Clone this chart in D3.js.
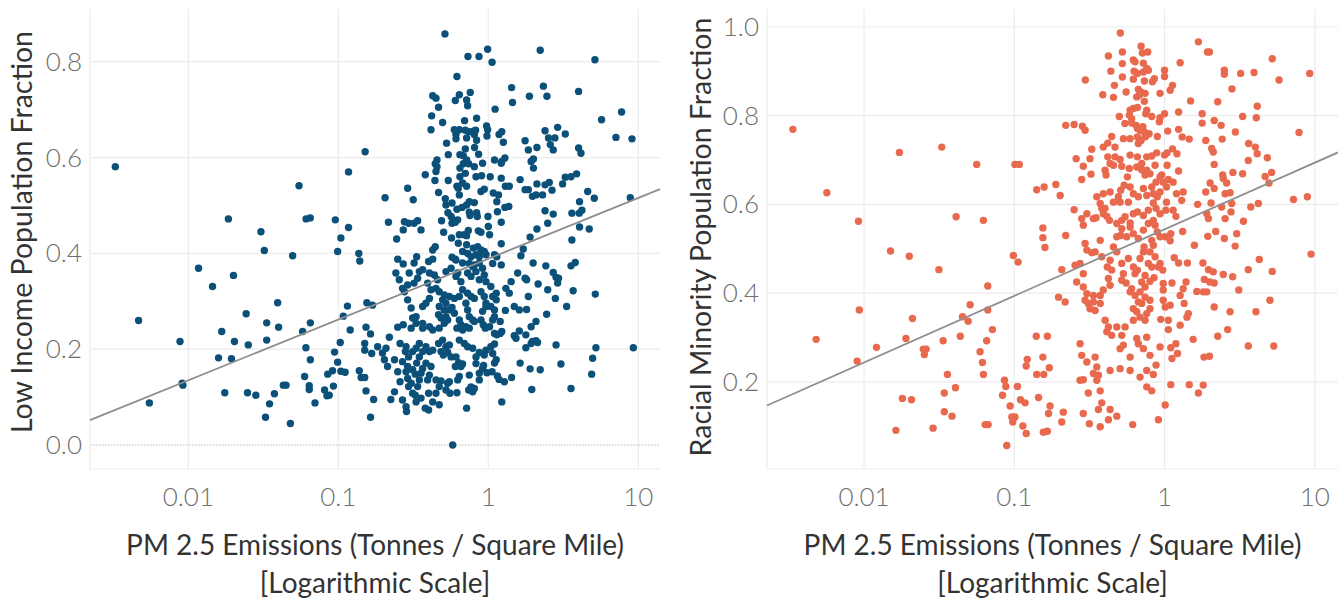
<!DOCTYPE html>
<html>
<head>
<meta charset="utf-8">
<script src="https://cdn.jsdelivr.net/npm/d3@7"></script>
<style>
  body { margin: 0; background: #fff; }
  svg { display: block; font-family: Lato, "Open Sans", sans-serif; }
  .tick-label { fill: #6e6e6e; font-size: 26px; font-weight: 300; }
  .axis-title { fill: #333; font-size: 28px; }
  .y-title { fill: #333; font-size: 28.5px; }
</style>
</head>
<body>
<div id="chart"></div>
<script>
// Tick values shared by both panels
const xTickValues = [0.01, 0.1, 1, 10];
const lowIncomeYTicks = [0, 0.2, 0.4, 0.6, 0.8];
const minorityYTicks = [0.2, 0.4, 0.6, 0.8, 1.0];

// [PM 2.5 emissions, low income fraction]
const lowIncomePoints = [
  [0.00326,0.581],[0.0185,0.472],[0.0305,0.445],[0.0547,0.541],[0.061,0.472],[0.065,0.474],[0.0955,0.47],[0.117,0.57],[0.151,0.612],[0.117,0.454],[0.104,0.432],
  [0.0321,0.406],[0.0496,0.395],[0.099,0.404],[0.137,0.4],[0.139,0.384],[0.0117,0.369],[0.0145,0.331],[0.020,0.354],[0.00466,0.26],[0.0088,0.216],[0.0091,0.129],[0.0092,0.125],[0.0055,0.088],
  [0.0167,0.237],[0.0203,0.216],[0.0159,0.182],[0.0194,0.18],[0.0243,0.274],[0.0251,0.209],[0.0333,0.255],[0.040,0.246],[0.0394,0.297],[0.0333,0.219],[0.0175,0.109],[0.0248,0.109],
  [0.0282,0.104],[0.0348,0.086],[0.0375,0.107],[0.043,0.125],[0.0448,0.125],[0.0327,0.058],[0.0479,0.045],[0.0578,0.237],[0.0651,0.255],[0.0608,0.203],[0.0651,0.178],[0.0596,0.143],
  [0.064,0.124],[0.064,0.116],[0.0699,0.088],[0.081,0.115],[0.084,0.103],[0.087,0.104],[0.0928,0.123],[0.085,0.148],[0.0915,0.155],[0.0944,0.194],[0.099,0.173],[0.103,0.214],[0.104,0.154],
  [0.111,0.152],[0.108,0.269],[0.115,0.29],[0.12,0.24],[0.138,0.155],[0.142,0.141],[0.15,0.141],[0.153,0.113],[0.172,0.095],[0.164,0.058],[0.15,0.212],[0.15,0.198],[0.167,0.191],
  [0.153,0.246],[0.164,0.232],[0.183,0.205],[0.155,0.297],[0.169,0.292],
  [0.514,0.858],[0.732,0.811],[0.867,0.811],[0.99,0.826],[1.06,0.799],[2.22,0.824],[5.14,0.804],[0.618,0.769],[1.43,0.746],[2.33,0.749],[2.46,0.728],[1.88,0.728],[4.0,0.738],
  [1.45,0.715],[1.11,0.701],[7.74,0.695],[5.69,0.679],[7.1,0.642],[9.08,0.639],[8.85,0.516],
  [0.426,0.729],[0.448,0.724],[0.466,0.705],[0.603,0.719],[0.641,0.731],[0.717,0.72],[0.758,0.736],[0.728,0.708],[0.419,0.687],[0.496,0.673],[0.415,0.658],[0.695,0.677],[0.836,0.682],
  [0.594,0.658],[0.641,0.658],[0.703,0.657],[0.747,0.654],[0.798,0.655],[0.823,0.657],[0.609,0.648],[0.717,0.641],[0.807,0.648],[0.609,0.639],[0.974,0.666],[0.99,0.658],[0.98,0.645],
  [1.18,0.648],[1.23,0.654],[1.26,0.632],[0.527,0.63],[0.836,0.636],[0.81,0.621],[0.703,0.618],[0.541,0.606],[0.647,0.606],[0.681,0.604],[0.862,0.607],[0.455,0.595],[0.443,0.587],
  [0.455,0.581],[0.448,0.571],[0.717,0.595],[0.681,0.587],[0.74,0.587],[0.647,0.578],[0.807,0.581],[0.703,0.567],[0.647,0.56],[0.916,0.588],[1.1,0.595],[1.23,0.592],[1.29,0.599],
  [1.22,0.588],[1.76,0.635],[1.85,0.616],[2.11,0.621],[2.0,0.597],[1.93,0.592],[2.0,0.578],[2.39,0.656],[2.52,0.641],[2.78,0.641],[2.9,0.663],[2.59,0.627],[2.71,0.616],[3.26,0.649],
  [4.0,0.62],[4.15,0.609],[0.38,0.564],[0.441,0.552],[0.541,0.552],[0.618,0.54],[0.674,0.547],[0.717,0.54],[0.828,0.56],[0.902,0.562],[1.03,0.56],[1.22,0.557],[1.3,0.54],[1.38,0.54],
  [1.63,0.554],[1.76,0.533],[1.85,0.533],[2.11,0.545],[2.39,0.543],[2.55,0.548],[1.97,0.519],[2.08,0.522],[2.3,0.522],[2.66,0.532],[3.13,0.545],[3.26,0.559],[3.56,0.56],[3.88,0.566],
  [4.6,0.529],[5.09,0.515],[0.466,0.527],[0.631,0.536],[0.641,0.522],[0.517,0.514],[0.522,0.501],[0.573,0.505],[0.618,0.492],[0.668,0.496],[0.717,0.501],[0.747,0.508],[0.807,0.506],
  [0.894,0.529],[0.94,0.534],[1.08,0.526],[1.17,0.522],[1.14,0.508],[1.29,0.496],[1.37,0.498],[1.15,0.487],[1.22,0.465],[2.39,0.489],[2.71,0.482],[2.49,0.463],[3.61,0.484],[4.04,0.484],
  [4.21,0.49],[4.06,0.508],[4.06,0.455],[4.71,0.451],[2.11,0.451],[1.9,0.434],[3.61,0.428],[0.538,0.485],[0.565,0.477],[0.584,0.47],[0.603,0.465],[0.573,0.463],[0.625,0.47],[0.488,0.468],
  [0.747,0.486],[0.755,0.479],[0.836,0.485],[0.845,0.477],[0.995,0.477],[1.0,0.456],[0.504,0.444],[0.569,0.432],[0.641,0.439],[0.692,0.439],[0.736,0.448],[0.717,0.437],[0.858,0.447],
  [0.894,0.444],[1.02,0.439],[0.205,0.516],[0.29,0.536],[0.316,0.512],[0.216,0.465],[0.276,0.466],[0.294,0.463],[0.32,0.463],[0.338,0.468],[0.271,0.449],[0.356,0.449],[0.245,0.43],
  [0.631,0.421],[0.717,0.418],[1.22,0.42],[1.71,0.409],[1.65,0.395],[0.426,0.407],[0.443,0.414],[0.333,0.393],[0.249,0.388],[0.271,0.378],[0.4,0.383],[0.426,0.388],[0.573,0.392],[0.603,0.388],
  [0.674,0.404],[0.728,0.4],[0.794,0.411],[0.849,0.414],[0.894,0.407],[0.94,0.404],[0.828,0.397],[0.767,0.393],[0.871,0.393],[0.965,0.397],[1.1,0.397],[1.14,0.393],[1.07,0.379],[1.22,0.376],
  [0.747,0.379],[0.807,0.376],[1.57,0.359],[1.76,0.348],[1.8,0.345],[1.99,0.38],[2.42,0.374],[2.71,0.36],[2.83,0.35],[2.94,0.348],[2.9,0.338],[3.56,0.374],[3.8,0.381],[2.15,0.336],
  [2.49,0.324],[3.68,0.322],[5.17,0.315],[1.85,0.31],[2.8,0.306],[3.33,0.289],[2.45,0.273],[2.08,0.258],[1.93,0.247],[1.78,0.23],[1.97,0.216],[2.08,0.218],[2.13,0.214],[1.61,0.238],
  [1.49,0.228],[1.53,0.223],[1.8,0.283],[2.83,0.209],[1.78,0.203],[1.93,0.212],[5.22,0.203],[9.27,0.203],[4.96,0.181],[4.89,0.148],[3.05,0.169],[2.22,0.157],[1.9,0.159],[1.63,0.171],
  [3.56,0.118],[1.95,0.116],[1.23,0.09],[1.43,0.141],[1.28,0.132],[0.579,0.0],
  [0.219,0.225],[0.208,0.202],[0.197,0.192],[0.203,0.178],[0.213,0.164],[0.237,0.178],[0.249,0.153],[0.258,0.132],[0.237,0.111],[0.224,0.095],[0.268,0.094],[0.283,0.08],[0.285,0.07],
  [0.294,0.122],[0.313,0.108],[0.326,0.104],[0.338,0.122],[0.29,0.139],[0.306,0.129],[0.347,0.136],[0.356,0.15],[0.326,0.148],[0.38,0.077],[0.4,0.073],[0.426,0.09],[0.471,0.084],
  [0.448,0.108],[0.4,0.108],[0.448,0.136],[0.484,0.134],[0.536,0.129],[0.55,0.132],[0.625,0.136],[0.641,0.143],[0.618,0.109],[0.717,0.077],[0.74,0.115],[0.787,0.111],[0.807,0.118],
  [0.767,0.121],[0.747,0.146],[0.871,0.136],[0.871,0.15],[0.916,0.16],[0.98,0.151],[1.1,0.171],[1.06,0.153],[1.15,0.144],[1.18,0.137],[0.828,0.17],[0.93,0.166],
  [0.565,0.184],[0.609,0.184],[0.634,0.172],[0.674,0.169],[0.603,0.164],[0.657,0.164],[0.484,0.195],[0.501,0.188],[0.536,0.193],[0.522,0.205],[0.466,0.212],[0.496,0.219],[0.55,0.209],
  [0.641,0.219],[0.692,0.212],[0.728,0.205],[0.787,0.202],[0.871,0.193],[0.965,0.198],[1.04,0.205],[1.1,0.211],[1.14,0.23],[1.2,0.233],[1.23,0.237],[0.384,0.205],[0.405,0.195],
  [0.426,0.198],[0.365,0.195],[0.347,0.184],[0.333,0.171],[0.384,0.171],[0.365,0.16],[0.415,0.164],[0.405,0.146],[0.394,0.136],[0.28,0.195],[0.294,0.184],[0.268,0.174],[0.29,0.164],
  [0.283,0.153],[0.313,0.157],[0.258,0.212],[0.283,0.205],[0.313,0.195],[0.33,0.202],[0.347,0.212],
  [0.271,0.251],[0.306,0.244],[0.249,0.246],[0.313,0.265],[0.33,0.254],[0.365,0.254],[0.365,0.244],[0.405,0.247],[0.426,0.24],
  [0.471,0.244],[0.509,0.254],[0.536,0.261],[0.484,0.265],[0.522,0.268],[0.466,0.272],[0.509,0.282],[0.471,0.289],[0.55,0.282],[0.573,0.287],[0.594,0.275],[0.641,0.261],[0.657,0.251],
  [0.618,0.244],[0.674,0.24],[0.709,0.247],[0.747,0.244],[0.807,0.258],[0.894,0.261],[0.925,0.251],[0.955,0.244],[1.02,0.247],[1.07,0.261],[1.1,0.268],[0.965,0.289],[0.916,0.279],
  [0.894,0.32],[0.94,0.31],[0.965,0.296],[1.04,0.289],[1.1,0.282],[0.728,0.282],[0.747,0.268],[0.787,0.261],[0.709,0.296],[0.728,0.317],[0.767,0.31],[0.807,0.306],[0.674,0.324],
  [0.641,0.31],[0.594,0.306],[0.55,0.31],[0.509,0.313],[0.496,0.303],[0.522,0.296],[0.405,0.306],[0.384,0.296],[0.365,0.289],[0.415,0.324],[0.448,0.327],[0.394,0.338],[0.471,0.32],
  [0.459,0.345],[0.437,0.355],[0.405,0.359],[0.365,0.366],[0.347,0.362],[0.32,0.338],[0.338,0.348],[0.29,0.334],[0.276,0.32],[0.29,0.303],[0.306,0.286],[0.33,0.268],
  [0.522,0.362],[0.565,0.369],[0.625,0.359],[0.609,0.352],[0.657,0.341],[0.728,0.359],[0.767,0.352],[0.828,0.362],[0.871,0.345],[0.94,0.355],[0.965,0.341],[1.04,0.331],[1.13,0.317],
  [1.07,0.31],[0.674,0.38],[0.609,0.386],[0.787,0.372],[0.871,0.38],[0.916,0.369],[0.255,0.345],[0.242,0.359],[0.268,0.327],[0.32,0.38],[0.297,0.359],
  [0.471,0.122],[0.522,0.115],[0.555,0.108],[0.33,0.09],[0.356,0.098],[0.828,0.184],[0.94,0.188],[1.07,0.191],[1.13,0.178],
  [1.13,0.303],[1.3,0.281],[1.2,0.258],[1.1,0.233],[1.49,0.289],[1.61,0.282],[1.38,0.317],[1.31,0.327],[1.42,0.341]
];

// [PM 2.5 emissions, racial minority fraction]
const minorityPoints = [
  [0.00336,0.769],[0.00565,0.626],[0.0172,0.717],[0.0329,0.729],[0.0562,0.69],[0.101,0.69],[0.108,0.69],[0.141,0.633],[0.158,0.639],[0.00918,0.562],[0.041,0.572],[0.0623,0.564],[0.155,0.547],
  [0.155,0.525],[0.16,0.503],[0.015,0.495],[0.02,0.483],[0.0315,0.453],[0.0986,0.485],[0.106,0.47],[0.0666,0.416],[0.0093,0.362],[0.0508,0.374],[0.0666,0.362],[0.0452,0.347],[0.0493,0.337],
  [0.0715,0.318],[0.021,0.343],[0.0048,0.296],[0.0121,0.278],[0.019,0.298],[0.009,0.247],[0.0248,0.274],[0.0259,0.274],[0.0252,0.262],[0.0336,0.293],[0.0437,0.303],[0.0655,0.293],
  [0.0592,0.268],[0.0614,0.244],[0.0623,0.217],[0.0359,0.217],[0.0406,0.187],[0.0342,0.175],[0.0342,0.133],[0.0385,0.123],[0.018,0.163],[0.0207,0.16],[0.0163,0.091],[0.0288,0.096],
  [0.064,0.104],[0.067,0.104],[0.0891,0.057],[0.086,0.204],[0.0878,0.19],[0.0835,0.17],[0.105,0.19],[0.0938,0.146],[0.0963,0.121],[0.101,0.121],[0.0977,0.11],[0.11,0.16],[0.118,0.153],
  [0.114,0.101],[0.12,0.084],[0.14,0.303],[0.166,0.303],[0.122,0.251],[0.12,0.236],[0.155,0.256],[0.171,0.232],[0.141,0.217],[0.157,0.217],[0.145,0.165],[0.173,0.146],[0.169,0.129],
  [0.156,0.087],[0.166,0.089],
  [0.508,0.986],[1.68,0.966],[1.93,0.943],[1.99,0.943],[0.698,0.956],[0.524,0.943],[0.712,0.941],[0.773,0.943],[0.423,0.934],[1.27,0.919],[5.21,0.928],[0.524,0.917],[0.62,0.925],
  [0.636,0.921],[0.723,0.918],[0.439,0.9],[0.627,0.9],[0.66,0.895],[0.723,0.898],[0.761,0.906],[0.78,0.902],[1.0,0.902],[1.0,0.888],[2.5,0.902],[2.5,0.893],[3.21,0.895],[3.94,0.897],
  [9.25,0.895],[5.78,0.88],[0.297,0.88],[0.524,0.887],[0.464,0.868],[0.62,0.882],[0.734,0.878],[0.83,0.876],[0.855,0.883],[0.555,0.853],[0.669,0.859],[0.694,0.853],[0.742,0.85],
  [0.653,0.842],[0.679,0.846],[0.933,0.85],[1.13,0.868],[1.09,0.857],[0.388,0.847],[0.457,0.841],[2.81,0.86],[0.734,0.832],[1.49,0.833],[2.26,0.831],[4.14,0.821],
  [0.59,0.812],[0.62,0.816],[0.66,0.818],[0.583,0.801],[0.604,0.793],[0.604,0.783],[0.646,0.778],[0.66,0.771],[0.689,0.767],[0.718,0.775],[0.734,0.763],[0.761,0.756],[0.789,0.759],
  [0.742,0.752],[0.66,0.752],[0.669,0.737],[0.698,0.744],[0.59,0.748],[0.532,0.748],[0.545,0.782],[0.5,0.798],
  [0.761,0.812],[0.75,0.804],[0.822,0.798],[0.933,0.795],[1.0,0.804],[0.923,0.786],[1.24,0.808],[1.78,0.804],[1.78,0.783],[2.14,0.789],[2.38,0.778],[3.31,0.798],[4.08,0.795],
  [7.85,0.762],[0.22,0.778],[0.25,0.78],[0.284,0.776],[0.296,0.767],[0.445,0.753],[0.895,0.753],[1.05,0.765],[1.24,0.769],[1.31,0.752],[1.46,0.747],[1.88,0.744],[2.42,0.747],
  [2.96,0.763],[0.391,0.729],[0.419,0.738],[0.468,0.729],[0.328,0.724],[0.319,0.703],[0.258,0.703],
  [0.419,0.707],[0.434,0.692],[0.468,0.707],[0.506,0.701],[0.59,0.711],[0.66,0.707],[0.705,0.692],[0.761,0.707],[0.822,0.709],[0.887,0.716],[1.0,0.711],[1.04,0.716],[1.13,0.725],
  [1.21,0.714],[0.653,0.684],[0.705,0.678],[0.761,0.677],[0.742,0.666],[0.8,0.669],[0.865,0.688],[0.958,0.666],[1.04,0.688],
  [0.288,0.686],[0.324,0.668],[0.281,0.656],[0.189,0.645],[0.202,0.62],
  [0.402,0.677],[0.408,0.666],[0.457,0.688],[0.519,0.686],[0.566,0.662],[0.583,0.681],[1.24,0.675],[2.06,0.726],[2.11,0.718],[2.14,0.69],[3.63,0.737],[4.02,0.729],[4.14,0.714],
  [3.61,0.699],[4.83,0.705],[2.85,0.672],[3.31,0.669],[2.44,0.666],[2.59,0.648],[2.46,0.658],[2.01,0.648],[2.14,0.636],[1.88,0.628],[4.67,0.663],[5.16,0.672],[4.95,0.648],
  [2.53,0.624],[2.73,0.626],[2.8,0.602],[2.4,0.594],[2.77,0.583],[2.53,0.568],[7.21,0.611],[8.92,0.617],[3.75,0.594],[4.21,0.602],[3.35,0.562],[1.66,0.6],[2.04,0.603],[1.91,0.579],
  [1.96,0.568],
  [0.25,0.588],[0.281,0.568],[0.288,0.553],[0.304,0.579],[0.336,0.568],[0.35,0.57],[0.391,0.579],[0.402,0.591],[0.413,0.573],[0.43,0.564],[0.481,0.557],[0.519,0.564],[0.546,0.572],
  [0.59,0.558],[0.62,0.579],[0.66,0.583],[0.723,0.575],[0.78,0.587],[0.842,0.564],[0.878,0.591],[0.933,0.579],[1.02,0.587],[1.14,0.587],[1.19,0.573],[1.3,0.609],[1.33,0.628],
  [1.2,0.624],[1.14,0.65],[1.03,0.639],[0.98,0.65],[1.06,0.656],[0.933,0.662],[0.878,0.65],[0.822,0.639],[0.842,0.624],[0.895,0.617],[0.933,0.628],[1.03,0.605],[0.842,0.603],
  [0.761,0.62],[0.723,0.636],[0.669,0.617],[0.62,0.624],[0.59,0.639],[0.538,0.643],[0.511,0.632],[0.493,0.617],[0.457,0.605],[0.434,0.628],[0.391,0.624],[0.373,0.602],[0.354,0.617],
  [0.382,0.591],[0.506,0.605],[0.574,0.605],
  [9.44,0.488],[4.27,0.476],[3.61,0.453],[5.21,0.449],[2.84,0.437],[3.12,0.407],[5.03,0.384],[4.06,0.358],[3.61,0.281],[5.33,0.281],[2.73,0.358],[2.63,0.318],[2.26,0.303],[2.14,0.369],
  [2.46,0.442],[1.96,0.453],[2.11,0.448],[2.14,0.423],[2.0,0.425],[1.84,0.431],[1.91,0.403],[1.81,0.403],[1.64,0.404],[1.8,0.468],[1.42,0.468],[1.24,0.468],[1.58,0.508],[1.94,0.528],
  [2.19,0.539],[2.5,0.523],[3.02,0.534],[2.95,0.506],[1.32,0.539],[1.16,0.48],
  [1.39,0.425],[1.33,0.41],[1.27,0.395],[1.35,0.377],[1.44,0.354],[1.41,0.346],[1.27,0.328],
  [1.12,0.423],[0.98,0.422],[0.98,0.407],[0.98,0.384],[1.01,0.369],[1.09,0.373],[1.06,0.339],[0.943,0.341],[1.06,0.318],
  [1.1,0.534],[1.09,0.518],[1.01,0.527],[0.933,0.527],[0.822,0.519],[0.842,0.508],[0.933,0.467],[0.973,0.452],[0.91,0.459],[0.865,0.482],[0.8,0.493],[0.78,0.467],[0.822,0.459],
  [0.742,0.44],[0.851,0.435],[0.8,0.427],[0.705,0.425],[0.742,0.414],[0.687,0.403],[0.604,0.41],[0.555,0.423],[0.519,0.429],[0.532,0.444],[0.519,0.467],[0.574,0.478],[0.62,0.459],
  [0.636,0.444],[0.66,0.452],[0.687,0.478],[0.723,0.493],[0.73,0.504],[0.669,0.523],[0.62,0.534],[0.56,0.527],[0.511,0.53],[0.481,0.527],[0.519,0.545],[0.59,0.549],[0.723,0.542],
  [0.78,0.557],[0.865,0.553],[0.895,0.538],
  [0.22,0.53],[0.296,0.512],[0.304,0.497],[0.328,0.491],[0.345,0.493],[0.373,0.519],[0.382,0.482],[0.457,0.504],[0.481,0.493],[0.434,0.474],[0.416,0.459],[0.445,0.452],[0.423,0.433],
  [0.434,0.418],[0.391,0.407],[0.373,0.395],[0.336,0.395],[0.304,0.399],[0.296,0.384],[0.311,0.377],[0.336,0.38],[0.373,0.377],[0.345,0.361],[0.319,0.365],[0.288,0.414],[0.26,0.425],
  [0.274,0.467],[0.288,0.444],[0.254,0.463],[0.207,0.453],[0.197,0.391],[0.218,0.38],
  [0.59,0.403],[0.636,0.395],[0.669,0.38],[0.653,0.358],[0.687,0.346],[0.742,0.339],[0.761,0.354],[0.8,0.365],[0.8,0.384],[0.742,0.391],[0.705,0.377],[0.402,0.339],[0.423,0.324],
  [0.413,0.313],[0.445,0.305],[0.481,0.324],[0.519,0.305],[0.546,0.324],[0.506,0.275],[0.532,0.283],[0.59,0.256],[0.653,0.298],[0.669,0.286],[0.723,0.275],[0.8,0.26],[0.761,0.301],
  [0.62,0.339],[0.62,0.365],
  [0.274,0.286],[0.281,0.26],[0.304,0.245],[0.345,0.256],[0.354,0.234],[0.336,0.219],[0.363,0.215],[0.354,0.204],[0.288,0.205],[0.274,0.204],[0.311,0.175],[0.373,0.18],[0.382,0.153],
  [0.363,0.138],[0.434,0.138],[0.423,0.115],[0.481,0.123],[0.373,0.099],[0.316,0.106],[0.288,0.129],[0.212,0.132],[0.207,0.11],[0.434,0.226],[0.506,0.23],[0.59,0.226],[0.687,0.211],
  [0.761,0.226],[0.842,0.217],[0.878,0.238],[0.761,0.189],[0.822,0.18],[0.91,0.115],[1.01,0.148],[1.1,0.194],[1.46,0.194],[1.68,0.175],[1.81,0.193],[1.83,0.256],[1.99,0.258],
  [1.55,0.296],[1.19,0.286],[1.1,0.277],[0.933,0.279],[1.22,0.264],[1.12,0.253],[0.614,0.104]
];

// Trend line end points (linear in log emissions)
const lowIncomeTrend = [[0.00221, 0.052], [13.96, 0.534]];
const minorityTrend = [[0.00226, 0.147], [14.27, 0.717]];

const config = {
  width: 1338,
  height: 600,
  top: 9,
  bottom: 469,
  pointRadius: 3.7,
  gridColour: '#ececec',
  trendColour: '#8e8e8e'
};

const panels = [
  {
    points: lowIncomePoints, trend: lowIncomeTrend, yTicks: lowIncomeYTicks,
    yTitle: 'Low Income Population Fraction', colour: '#0a5079',
    left: 90, right: 660, xDomain: [0.00221, 13.96], yDomain: [-0.05, 0.91],
    zeroLine: true, yTitleX: 22, yTitleY: 232
  },
  {
    points: minorityPoints, trend: minorityTrend, yTicks: minorityYTicks,
    yTitle: 'Racial Minority Population Fraction', colour: '#e8694d',
    left: 767, right: 1338, xDomain: [0.00226, 14.27], yDomain: [0.004, 1.04],
    zeroLine: false, yTitleX: 701, yTitleY: 237
  }
];

const svg = d3.select('#chart').append('svg')
  .attr('width', config.width)
  .attr('height', config.height);

const fmtX = d => d >= 1 ? d3.format('d')(d) : String(d);

panels.forEach(p => {
  const x = d3.scaleLog().domain(p.xDomain).range([p.left, p.right]);
  const y = d3.scaleLinear().domain(p.yDomain).range([config.bottom, config.top]);
  const g = svg.append('g');

  // Vertical gridlines
  g.selectAll('.vgrid')
    .data(xTickValues)
    .join('line')
      .attr('x1', d => x(d)).attr('x2', d => x(d))
      .attr('y1', config.top).attr('y2', config.bottom)
      .attr('stroke', config.gridColour).attr('stroke-width', 1.2);

  // Horizontal gridlines (zero line is dotted)
  g.selectAll('.hgrid')
    .data(p.yTicks)
    .join('line')
      .attr('x1', p.left).attr('x2', p.right)
      .attr('y1', d => y(d)).attr('y2', d => y(d))
      .attr('stroke', d => d === 0 ? '#b8b8b8' : config.gridColour)
      .attr('stroke-width', d => d === 0 ? 1 : 1.2)
      .attr('stroke-dasharray', d => d === 0 ? '1.5,1.5' : null);

  // Plot borders (left and bottom)
  g.append('line')
    .attr('x1', p.left).attr('x2', p.left)
    .attr('y1', config.top).attr('y2', config.bottom)
    .attr('stroke', config.gridColour).attr('stroke-width', 1.2);
  g.append('line')
    .attr('x1', p.left).attr('x2', p.right)
    .attr('y1', config.bottom).attr('y2', config.bottom)
    .attr('stroke', config.gridColour).attr('stroke-width', 1.2);

  // Points
  g.selectAll('.dot')
    .data(p.points)
    .join('circle')
      .attr('cx', d => x(d[0]))
      .attr('cy', d => y(d[1]))
      .attr('r', config.pointRadius)
      .attr('fill', p.colour);

  // Trend line
  g.append('path')
    .datum(p.trend)
    .attr('fill', 'none')
    .attr('stroke', config.trendColour)
    .attr('stroke-width', 1.8)
    .attr('d', d3.line().x(d => x(d[0])).y(d => y(d[1])));

  // Tick labels
  g.selectAll('.x-label')
    .data(xTickValues)
    .join('text')
      .attr('class', 'tick-label')
      .attr('x', d => x(d))
      .attr('y', 497)
      .attr('dy', '0.35em')
      .attr('text-anchor', 'middle')
      .text(fmtX);

  g.selectAll('.y-label')
    .data(p.yTicks)
    .join('text')
      .attr('class', 'tick-label')
      .attr('x', p.left - 8)
      .attr('y', d => y(d))
      .attr('dy', '0.35em')
      .attr('text-anchor', 'end')
      .text(d3.format('.1f'));

  // Axis titles
  const cx = (p.left + p.right) / 2;
  g.append('text')
    .attr('class', 'axis-title')
    .attr('x', cx).attr('y', 545).attr('dy', '0.35em')
    .attr('text-anchor', 'middle')
    .text('PM 2.5 Emissions (Tonnes / Square Mile)');
  g.append('text')
    .attr('class', 'axis-title')
    .attr('x', cx).attr('y', 583).attr('dy', '0.35em')
    .attr('text-anchor', 'middle')
    .text('[Logarithmic Scale]');

  g.append('text')
    .attr('class', 'y-title')
    .attr('transform', `translate(${p.yTitleX}, ${p.yTitleY}) rotate(-90)`)
    .attr('dy', '0.35em')
    .attr('text-anchor', 'middle')
    .text(p.yTitle);
});
</script>
</body>
</html>
